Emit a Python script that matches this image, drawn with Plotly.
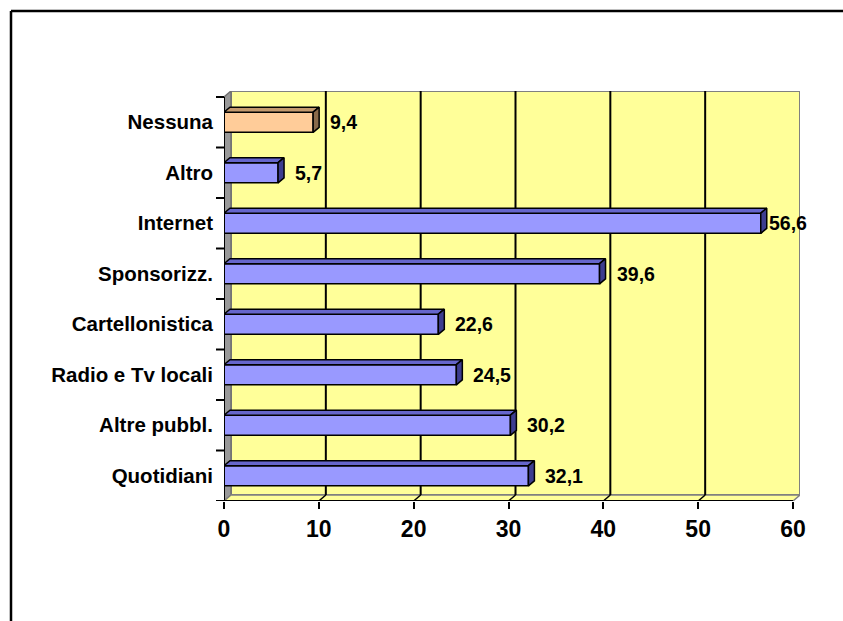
import plotly.graph_objects as go

# Survey results: communication channels used (percent)
categories = ["Quotidiani", "Altre pubbl.", "Radio e Tv locali", "Cartellonistica",
              "Sponsorizz.", "Internet", "Altro", "Nessuna"]
values = [32.1, 30.2, 24.5, 22.6, 39.6, 56.6, 5.7, 9.4]
value_labels = ["32,1", "30,2", "24,5", "22,6", "39,6", "56,6", "5,7", "9,4"]
x_ticks = [0, 10, 20, 30, 40, 50, 60]

# colours: (front, top, side)
BLUE = ("#9999FF", "#6666CC", "#3D3D8F")
PEACH = ("#FFCC99", "#C49A6E", "#8A6A4A")
bar_colors = [BLUE] * 7 + [PEACH]

W, H = 843, 621
L, R, T, B = 224, 43, 91, 120
plot_w = W - L - R
plot_h = H - T - B

x_max = 60
wall_px_x, wall_px_y = 7, 6
ppu_x = (plot_w - wall_px_x) / x_max
x_range = [0, x_max + wall_px_x / ppu_x]
n = len(categories)
ppu_y = (plot_h - wall_px_y) / n
y_lo, y_hi_front = -0.5, n - 0.5
y_range = [y_lo, y_hi_front + wall_px_y / ppu_y]

dxw = wall_px_x / ppu_x
dyw = wall_px_y / ppu_y
dxb = 6 / ppu_x
dyb = 5 / ppu_y
bar_h = 0.4

font_family = "Liberation Sans, Arial, sans-serif"

fig = go.Figure()

# front faces of the bars
fig.add_trace(go.Bar(
    x=values, y=list(range(n)), orientation="h", width=bar_h,
    marker=dict(color=[c[0] for c in bar_colors], line=dict(color="black", width=1.5)),
    hoverinfo="skip", showlegend=False,
))

# top and side faces for the 3D look
for i, v in enumerate(values):
    y0, y1 = i - bar_h / 2, i + bar_h / 2
    front, top, side = bar_colors[i]
    fig.add_trace(go.Scatter(
        x=[0, v, v + dxb, dxb, 0], y=[y1, y1, y1 + dyb, y1 + dyb, y1],
        fill="toself", fillcolor=top, mode="lines",
        line=dict(color="black", width=1.5), hoverinfo="skip", showlegend=False))
    fig.add_trace(go.Scatter(
        x=[v, v + dxb, v + dxb, v, v], y=[y0, y0 + dyb, y1 + dyb, y1, y0],
        fill="toself", fillcolor=side, mode="lines",
        line=dict(color="black", width=1.5), hoverinfo="skip", showlegend=False))

shapes = []
# back wall
shapes.append(dict(type="rect", xref="x", yref="y", layer="below",
                   x0=dxw, x1=x_range[1], y0=y_lo + dyw, y1=y_range[1],
                   fillcolor="#FFFF99", line=dict(color="#808080", width=2)))
# left wall
shapes.append(dict(type="path", xref="x", yref="y", layer="below",
                   path=f"M 0 {y_lo} L {dxw} {y_lo + dyw} L {dxw} {y_range[1]} L 0 {y_hi_front} Z",
                   fillcolor="#999999", line=dict(color="#707070", width=1.5)))
# floor
shapes.append(dict(type="path", xref="x", yref="y", layer="below",
                   path=f"M 0 {y_lo} L {x_max} {y_lo} L {x_max + dxw} {y_lo + dyw} L {dxw} {y_lo + dyw} Z",
                   fillcolor="#FFFF99", line=dict(color="#808080", width=1.5)))
# gridlines on the back wall and floor
for v in x_ticks[1:-1]:
    shapes.append(dict(type="line", xref="x", yref="y", layer="below",
                       x0=v + dxw, x1=v + dxw, y0=y_lo + dyw, y1=y_range[1],
                       line=dict(color="black", width=2)))
    shapes.append(dict(type="line", xref="x", yref="y", layer="below",
                       x0=v, x1=v + dxw, y0=y_lo, y1=y_lo + dyw,
                       line=dict(color="black", width=1.5)))
# axis lines
shapes.append(dict(type="line", xref="x", yref="y", x0=0, x1=x_max, y0=y_lo, y1=y_lo,
                   line=dict(color="black", width=2)))
shapes.append(dict(type="line", xref="x", yref="y", x0=0, x1=0, y0=y_lo, y1=y_hi_front,
                   line=dict(color="black", width=2)))
# category boundary ticks
for k in range(n + 1):
    yb = y_lo + k
    shapes.append(dict(type="line", xref="paper", yref="y",
                       x0=-8 / plot_w, x1=0, y0=yb, y1=yb,
                       line=dict(color="black", width=2)))


# outer frame (top and left edges visible)
def px(xp):
    return (xp - L) / plot_w


def py(yp):
    return (H - B - yp) / plot_h


shapes.append(dict(type="line", xref="paper", yref="paper",
                   x0=px(11), x1=px(W + 20), y0=py(11), y1=py(11),
                   line=dict(color="black", width=2.5)))
shapes.append(dict(type="line", xref="paper", yref="paper",
                   x0=px(11), x1=px(11), y0=py(11), y1=py(H + 20),
                   line=dict(color="black", width=2.5)))

# value labels
lab_size = 19.5
annotations = []
right_limit = plot_w + 5
for i, (v, t) in enumerate(zip(values, value_labels)):
    w_est = sum(0.278 if ch == "," else 0.556 for ch in t) * lab_size
    shift = min(15, right_limit - v * ppu_x - w_est)
    annotations.append(dict(x=v, y=i, xref="x", yref="y", text=t, showarrow=False,
                            xanchor="left", yanchor="middle", xshift=shift, yshift=0,
                            font=dict(family=font_family, size=lab_size, color="black", weight="bold")))

fig.update_layout(
    width=W, height=H,
    margin=dict(l=L, r=R, t=T, b=B),
    paper_bgcolor="white", plot_bgcolor="rgba(0,0,0,0)",
    shapes=shapes, annotations=annotations, showlegend=False,
    xaxis=dict(range=x_range, tickvals=x_ticks, ticktext=[str(v) for v in x_ticks],
               ticks="outside", ticklen=7, tickwidth=2, tickcolor="black",
               showgrid=False, zeroline=False, showline=False,
               tickfont=dict(family=font_family, size=23, color="black", weight="bold")),
    yaxis=dict(range=y_range, tickvals=list(range(n)), ticktext=categories,
               ticks="", showgrid=False, zeroline=False, showline=False,
               ticklabelstandoff=10,
               tickfont=dict(family=font_family, size=20.5, color="black", weight="bold")),
)

fig.write_html("out.html")
